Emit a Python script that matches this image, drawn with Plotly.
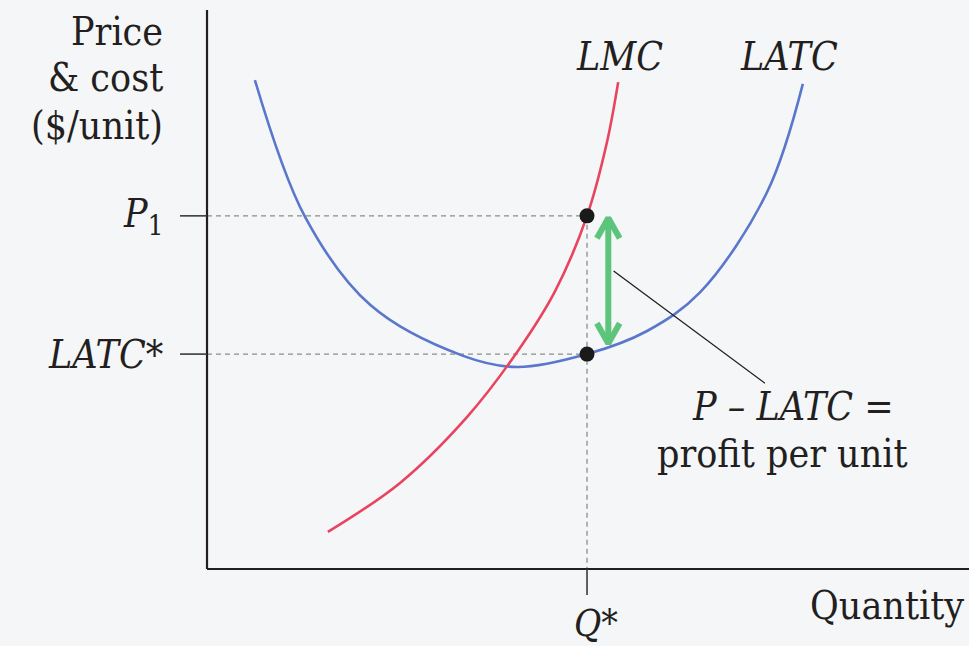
import plotly.graph_objects as go

# Key levels
q_star = 5.0
p1 = 10.09
latc_star = 6.14

# Long-run average total cost (U-shaped) and long-run marginal cost curves
latc_q = [0.63, 1.29, 2.15, 3.37, 4.08, 5.00, 5.79, 6.49, 7.37, 7.84]
latc_p = [13.97, 10.06, 7.54, 6.09, 5.77, 6.14, 6.80, 7.91, 10.77, 13.86]
lmc_q = [1.59, 2.54, 3.42, 4.09, 4.58, 5.00, 5.26, 5.41]
lmc_p = [1.06, 2.46, 4.34, 6.23, 7.94, 10.09, 12.17, 13.91]

# Tick labels
y_tick_labels = ["<i>P</i><sub>1</sub>", "<i>LATC*</i>"]
x_tick_label = "<i>Q*</i>"

FONT = "DejaVu Serif Condensed, DejaVu Serif, serif"
INK = "#231f20"
RED = "#e9445f"
BLUE = "#5a77cc"
GREEN = "#5dc47b"
DASH_GREY = "#8c8c8c"

X_RANGE = [-2.724, 10.026]
Y_RANGE = [-2.2, 16.257]
Y_TOP = 15.97

fig = go.Figure()

fig.add_trace(go.Scatter(x=latc_q, y=latc_p, mode="lines",
                         line=dict(color=BLUE, width=2.6, shape="spline", smoothing=1.0),
                         hoverinfo="skip"))
fig.add_trace(go.Scatter(x=lmc_q, y=lmc_p, mode="lines",
                         line=dict(color=RED, width=2.6, shape="spline", smoothing=1.0),
                         hoverinfo="skip"))

# Guide lines from the axes to the two points at Q*
guides = [
    dict(x0=0, y0=p1, x1=q_star, y1=p1),
    dict(x0=0, y0=latc_star, x1=q_star, y1=latc_star),
    dict(x0=q_star, y0=p1, x1=q_star, y1=0),
]
for g in guides:
    fig.add_shape(type="line", xref="x", yref="y", **g,
                  line=dict(color=DASH_GREY, width=1.3, dash="5px,4px"), layer="below")

# Axes
fig.add_shape(type="line", x0=0, y0=0, x1=0, y1=Y_TOP, line=dict(color=INK, width=2.2))
fig.add_shape(type="line", x0=0, y0=0, x1=X_RANGE[1], y1=0, line=dict(color=INK, width=2.2))

# Short solid ticks at labelled values
tick_len_x = 0.355
tick_len_y = 0.74
for yv in (p1, latc_star):
    fig.add_shape(type="line", x0=-tick_len_x, y0=yv, x1=0, y1=yv, line=dict(color="#3a3a3a", width=1.6))
fig.add_shape(type="line", x0=q_star, y0=0, x1=q_star, y1=-tick_len_y, line=dict(color="#3a3a3a", width=1.6))

# Green double-headed arrow measuring P - LATC
qa = q_star + 0.28
top = p1 - 0.06
bot = latc_star + 0.3
hx, hy = 0.15, 0.58
arrow_x = [qa - hx, qa, qa + hx, None, qa, qa, None, qa - hx, qa, qa + hx]
arrow_y = [top - hy, top, top - hy, None, top, bot, None, bot + hy, bot, bot + hy]
fig.add_trace(go.Scatter(x=arrow_x, y=arrow_y, mode="lines",
                         line=dict(color=GREEN, width=6), hoverinfo="skip"))

# Leader line from the arrow to its caption
lead_x0, lead_y0 = qa + 0.07, (p1 + latc_star) / 2 + 0.4
lead_x1, lead_y1 = 7.34, 5.31
fig.add_shape(type="line", x0=lead_x0, y0=lead_y0, x1=lead_x1, y1=lead_y1,
              line=dict(color="#1e1e1e", width=1.3))

# Points at Q*
fig.add_trace(go.Scatter(x=[q_star, q_star], y=[p1, latc_star], mode="markers",
                         marker=dict(color="#1a1a1a", size=15), hoverinfo="skip"))

def label(text, x, y, xanchor="center", size=39, **kw):
    fig.add_annotation(x=x, y=y, xref="x", yref="y", text=text, showarrow=False,
                       xanchor=xanchor, yanchor="middle",
                       font=dict(family=FONT, size=size, color=INK), **kw)

# Axis titles
label("Price", -0.553, 15.37, xanchor="right")
label("& cost", -0.553, 14.03, xanchor="right")
label("($/unit)", -0.553, 12.66, xanchor="right")
label("Quantity", 8.95, -1.03)

# Tick labels
label(y_tick_labels[0], -0.553, p1, xanchor="right")
label(y_tick_labels[1], -0.553, latc_star, xanchor="right")
label(x_tick_label, q_star, -1.55, xshift=9, size=37)

# Curve names
label("<i>LMC</i>", 5.43, 14.63)
label("<i>LATC</i>", 7.66, 14.63)

# Caption for the arrow
label("<i>P – LATC =</i>", 7.71, 4.63)
label("profit per unit", 7.57, 3.29)

fig.update_layout(
    width=969, height=646,
    margin=dict(l=0, r=0, t=0, b=0),
    paper_bgcolor="#f5f6f8",
    plot_bgcolor="#f5f6f8",
    showlegend=False,
    xaxis=dict(range=X_RANGE, visible=False, fixedrange=True),
    yaxis=dict(range=Y_RANGE, visible=False, fixedrange=True),
)

fig.write_html("out.html")
